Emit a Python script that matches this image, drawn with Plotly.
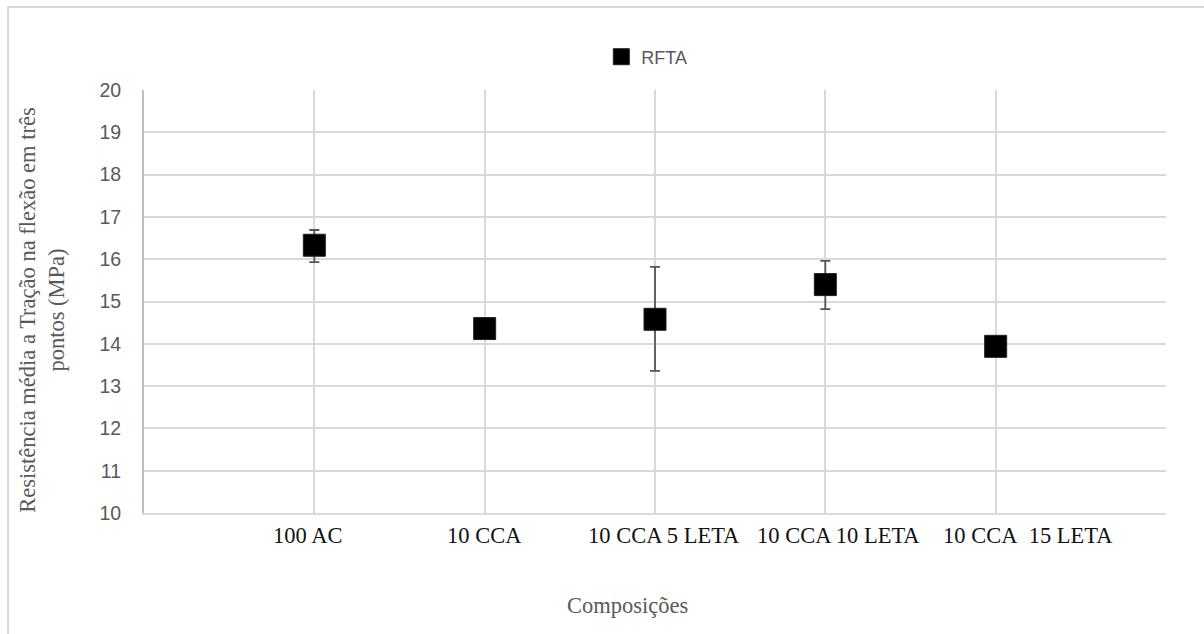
import plotly.graph_objects as go

# Compositions and mean three-point flexural tensile strength (MPa)
categories = ["100 AC", "10 CCA", "10 CCA 5 LETA", "10 CCA 10 LETA", "10 CCA\u00a0\u00a015 LETA"]
positions = [1, 2, 3, 4, 5]
rfta = [16.33, 14.36, 14.58, 15.40, 13.94]
err_plus = [0.36, 0.0, 1.24, 0.56, 0.0]
err_minus = [0.40, 0.0, 1.22, 0.58, 0.0]

# Horizontal placement of the category captions along the x axis
label_x = [0.96, 2.0, 3.05, 4.08, 5.19]

GRID = "#d9d9d9"
GREY_TXT = "#595959"
SERIF = "Liberation Serif, Times New Roman, serif"
SANS = "Liberation Sans, Arial, sans-serif"
SERIF_SIZE = 22.5

fig = go.Figure()
fig.add_trace(go.Scatter(
    x=positions, y=rfta, mode="markers", name="RFTA",
    marker=dict(symbol="square", size=22, color="black",
                line=dict(width=1, color="#202020")),
    error_y=dict(type="data", symmetric=False, array=err_plus, arrayminus=err_minus,
                 color="#555555", thickness=1.8, width=5),
))

annotations = []
for lx, lab in zip(label_x, categories):
    annotations.append(dict(
        x=lx, y=-0.053, xref="x", yref="paper", text=lab, showarrow=False,
        xanchor="center", yanchor="middle",
        font=dict(family=SERIF, size=SERIF_SIZE, color="#111111")))

annotations.append(dict(
    x=0.473, y=-0.218, xref="paper", yref="paper", text="Composições",
    showarrow=False, xanchor="center", yanchor="middle",
    font=dict(family=SERIF, size=SERIF_SIZE, color=GREY_TXT)))

annotations.append(dict(
    x=-0.1, y=0.48, xref="paper", yref="paper",
    text="Resistência média a Tração na flexão em três<br>pontos (MPa)",
    showarrow=False, textangle=-90, xanchor="center", yanchor="middle",
    font=dict(family=SERIF, size=SERIF_SIZE, color=GREY_TXT)))

fig.update_layout(
    width=1204, height=634,
    margin=dict(l=144, r=38, t=90, b=121),
    paper_bgcolor="white", plot_bgcolor="white",
    showlegend=True,
    legend=dict(x=0.492, y=1.078, xanchor="center", yanchor="middle",
                orientation="h", font=dict(family=SANS, size=18, color=GREY_TXT),
                bgcolor="rgba(0,0,0,0)", itemwidth=30),
    annotations=annotations,
    shapes=[dict(type="rect", xref="paper", yref="paper",
                 x0=-0.133, x1=1.05, y0=-0.32, y1=1.196,
                 line=dict(color=GRID, width=2), fillcolor="rgba(0,0,0,0)", layer="below")],
)

fig.update_xaxes(range=[0, 6], tick0=0, dtick=1, showgrid=True, gridcolor=GRID, gridwidth=2,
                 showticklabels=False, ticks="", zeroline=False,
                 showline=True, linecolor=GRID, linewidth=2, mirror=False)
fig.update_yaxes(range=[10, 20], tick0=10, dtick=1, showgrid=True, gridcolor=GRID, gridwidth=2,
                 ticks="outside", ticklen=17, tickcolor="rgba(0,0,0,0)",
                 tickfont=dict(family=SANS, size=19.5, color=GREY_TXT),
                 zeroline=False, showline=True, linecolor="#bfbfbf", linewidth=2)

fig.write_html("out.html")
